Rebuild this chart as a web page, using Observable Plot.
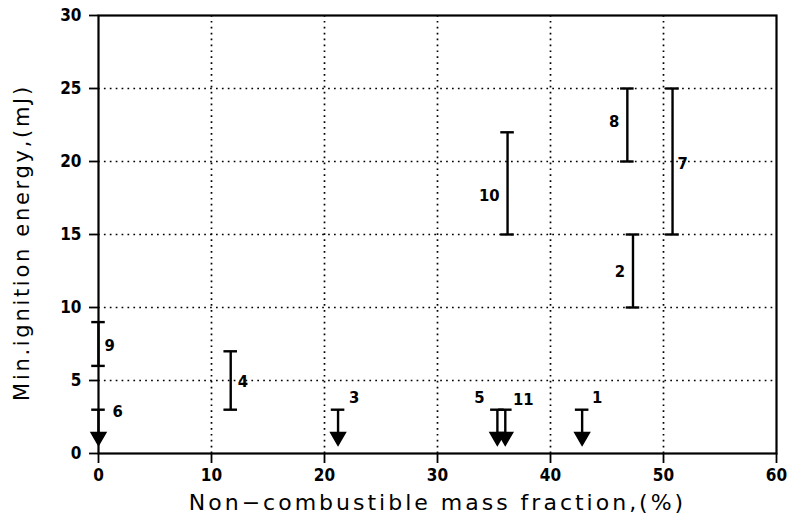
<!DOCTYPE html>
<html>
<head>
<meta charset="utf-8">
<script src="https://cdn.jsdelivr.net/npm/d3@7"></script>
<script src="https://cdn.jsdelivr.net/npm/@observablehq/plot@0.6"></script>
<style>
  html, body { margin: 0; padding: 0; background: #fff; }
  #chart svg { display: block; }
</style>
</head>
<body>
<div id="chart"></div>
<script>
// Sample numbers
const ids   = ["1", "2", "3", "4", "5", "6", "7", "8", "9", "10", "11"];
// Non-combustible mass fraction (%)
const xs    = [42.8, 47.3, 21.2, 11.7, 35.3, 0, 50.8, 46.8, 0, 36.2, 36.0];
// Min. ignition energy range (mJ); null low = upper bound only (arrow)
const lows  = [null, 10, null, 3, null, null, 15, 20, 6, 15, null];
const highs = [3, 15, 3, 7, 3, 3, 25, 25, 9, 22, 3];

const xTicks = [0, 10, 20, 30, 40, 50, 60];
const yTicks = [0, 5, 10, 15, 20, 25, 30];

const xTitle = "Non\u2212combustible mass fraction,(%)";
const yTitle = "Min.ignition energy,(mJ)";

const data = ids.map((id, i) => ({id, x: xs[i], lo: lows[i], hi: highs[i]}));
const ranges = data.filter(d => d.lo != null);
const bounds = data.filter(d => d.lo == null);

// label placement (style only)
const place = {
  "1":  {dx: 15, dy: -12, anchor: "middle", at: "hi"},
  "3":  {dx: 16, dy: -12, anchor: "middle", at: "hi"},
  "5":  {dx: -18, dy: -12, anchor: "middle", at: "hi"},
  "11": {dx: 18, dy: -10, anchor: "middle", at: "hi"},
  "6":  {dx: 14, dy: 2, anchor: "start", at: "hi"},
  "4":  {dx: 7, dy: 1, anchor: "start", at: "mid"},
  "9":  {dx: 6, dy: 2, anchor: "start", at: "mid"},
  "7":  {dx: 5, dy: 2, anchor: "start", at: "mid"},
  "2":  {dx: -8, dy: 1, anchor: "end", at: "mid"},
  "8":  {dx: -8, dy: -3, anchor: "end", at: "mid"},
  "10": {dx: -8, dy: 12, anchor: "end", at: "mid"}
};
const labelMarks = data.map(d => {
  const p = place[d.id];
  const ly = p.at === "hi" ? d.hi : (d.lo + d.hi) / 2;
  return Plot.text([d], {
    x: "x", y: () => ly, text: "id",
    textAnchor: p.anchor, dx: p.dx, dy: p.dy,
    fontSize: 16.5, fontWeight: "bold", fill: "black",
    fontFamily: "'DejaVu Sans Condensed', 'DejaVu Sans', sans-serif"
  });
});

const tickFont = "'DejaVu Sans Condensed', 'DejaVu Sans', sans-serif";
const titleFont = "'DejaVu Sans', sans-serif";
const capHalf = 0.6;
const lw = 2.4;

const chart = Plot.plot({
  width: 790,
  height: 521,
  marginLeft: 98,
  marginRight: 14,
  marginTop: 15,
  marginBottom: 68,
  style: {fontFamily: tickFont, background: "white", overflow: "visible"},
  x: {domain: [0, 60], ticks: xTicks, label: null},
  y: {domain: [0, 30], ticks: yTicks, label: null},
  marks: [
    Plot.gridX(xTicks.filter(t => t > 0 && t < 60), {stroke: "black", strokeOpacity: 1, strokeWidth: 1.7, strokeDasharray: "1.7,4.2"}),
    Plot.gridY(yTicks.filter(t => t > 0 && t < 30), {stroke: "black", strokeOpacity: 1, strokeWidth: 1.7, strokeDasharray: "1.7,4.2"}),
    Plot.frame({stroke: "black", strokeWidth: 2.2}),
    Plot.axisX(xTicks, {tickSize: 10, tickPadding: 5, fontSize: 17, fontWeight: "bold", strokeWidth: 1.8, label: null}),
    Plot.axisY(yTicks, {tickSize: 9, tickPadding: 8, fontSize: 17, fontWeight: "bold", strokeWidth: 1.8, label: null}),
    // range bars
    Plot.ruleX(ranges, {x: "x", y1: "lo", y2: "hi", stroke: "black", strokeWidth: lw}),
    Plot.ruleY(ranges, {y: "lo", x1: d => d.x - capHalf, x2: d => d.x + capHalf, stroke: "black", strokeWidth: lw}),
    Plot.ruleY(ranges, {y: "hi", x1: d => d.x - capHalf, x2: d => d.x + capHalf, stroke: "black", strokeWidth: lw}),
    // upper bound arrows
    Plot.ruleX(bounds, {x: "x", y1: 1.2, y2: "hi", stroke: "black", strokeWidth: lw}),
    Plot.ruleY(bounds, {y: "hi", x1: d => d.x - capHalf, x2: d => d.x + capHalf, stroke: "black", strokeWidth: lw}),
    Plot.dot(bounds, {x: "x", y: 1.15, symbol: "triangle", rotate: 180, r: 5.5, fill: "black", stroke: "black"}),
    // labels
    ...labelMarks,
    // axis titles
    Plot.text([xTitle], {
      frameAnchor: "bottom", dy: 56, fontSize: 22, fontFamily: titleFont,
      fill: "black", textAnchor: "middle"
    }),
    Plot.text([yTitle], {
      frameAnchor: "left", dx: -76, dy: 8, rotate: -90, fontSize: 21, fontFamily: titleFont,
      fill: "black", textAnchor: "middle"
    })
  ]
});
// widen title letter spacing like the reference
d3.select(chart).selectAll("text")
  .filter(function () { return this.textContent === xTitle; })
  .style("letter-spacing", "3px");
d3.select(chart).selectAll("text")
  .filter(function () { return this.textContent === yTitle; })
  .style("letter-spacing", "2.7px");
document.getElementById("chart").appendChild(chart);
</script>
</body>
</html>
